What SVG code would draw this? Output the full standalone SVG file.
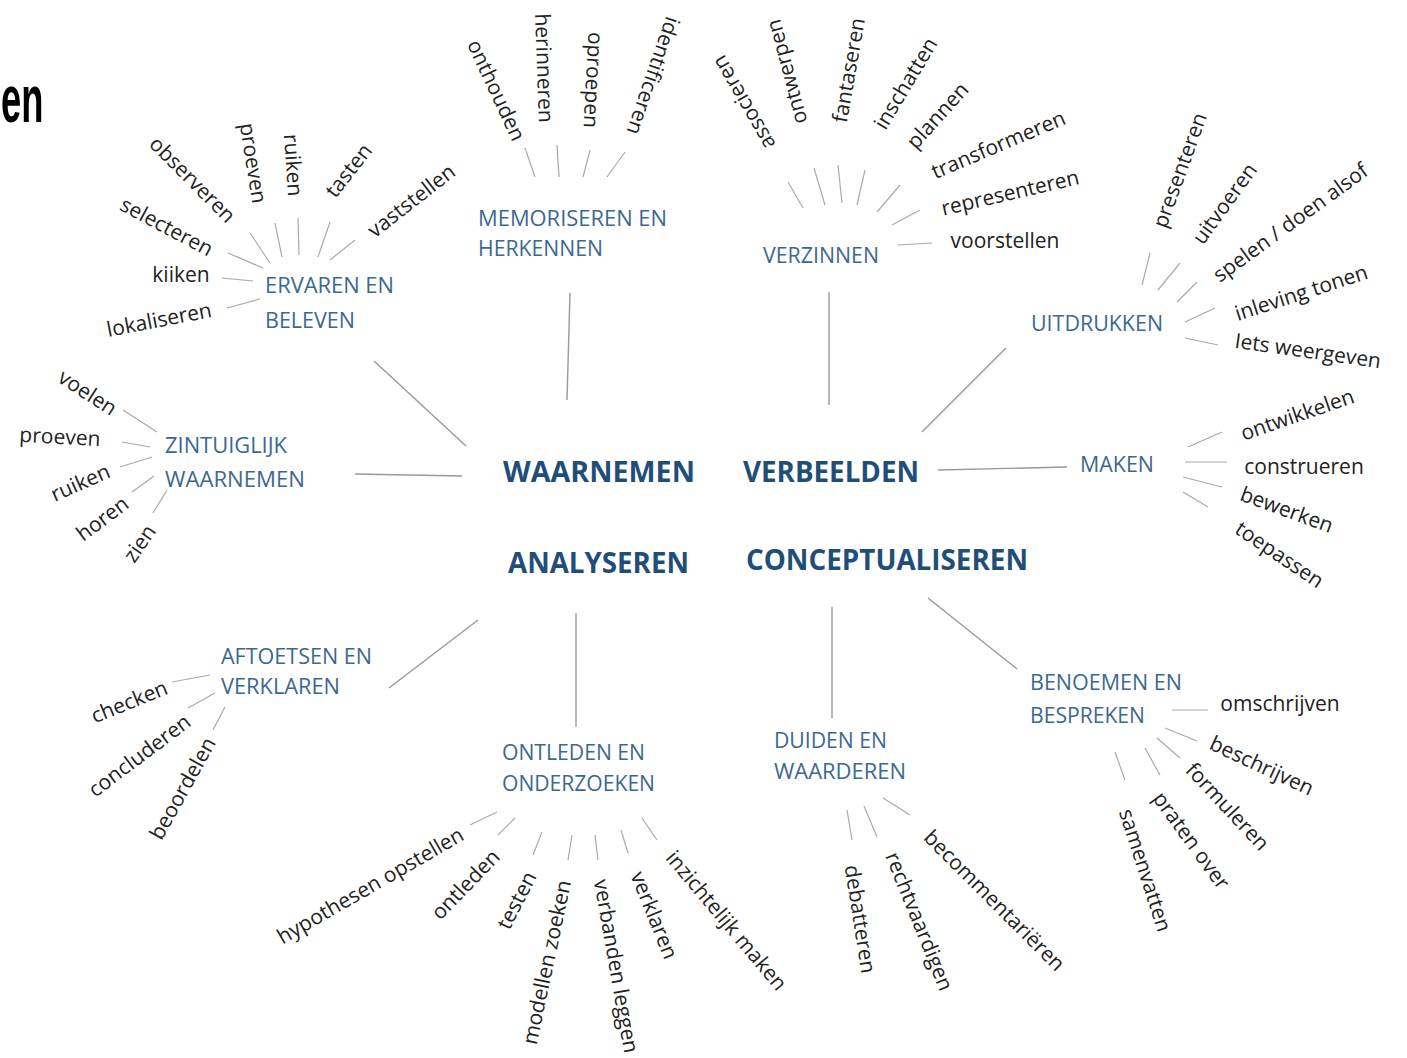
<svg xmlns="http://www.w3.org/2000/svg" width="1407" height="1058" viewBox="0 0 1407 1058">
<style>
.leaf{font-family:"Open Sans","Noto Sans","Liberation Sans",sans-serif;font-size:21px;fill:#222;text-anchor:middle;dominant-baseline:central}
.cat{font-family:"Open Sans","Noto Sans","Liberation Sans",sans-serif;font-size:22px;fill:#3b6891}
.core{font-family:"Open Sans","Noto Sans","Liberation Sans",sans-serif;font-size:29px;font-weight:bold;fill:#1f4e79}
.title{font-family:"Liberation Sans","Arial",sans-serif;font-size:66px;font-weight:bold;fill:#000}
.c{stroke:#999;stroke-width:1.4;fill:none}
.s{stroke:#aaa;stroke-width:1.2;fill:none}
</style>
<rect width="1407" height="1058" fill="#fff"/>
<text class="title" transform="translate(1,122) scale(0.55,1)">en</text>

<g id="connectors">
<line class="c" x1="374" y1="361" x2="466" y2="446"/>
<line class="c" x1="570" y1="293" x2="567" y2="400"/>
<line class="c" x1="355" y1="474" x2="462" y2="476"/>
<line class="c" x1="829" y1="292" x2="829" y2="405"/>
<line class="c" x1="1006" y1="348" x2="922" y2="432"/>
<line class="c" x1="938" y1="470" x2="1067" y2="467"/>
<line class="c" x1="389" y1="688" x2="478" y2="620"/>
<line class="c" x1="576" y1="613" x2="576" y2="727"/>
<line class="c" x1="832" y1="607" x2="832" y2="718"/>
<line class="c" x1="928" y1="598" x2="1017" y2="669"/>

<line class="s" x1="250" y1="233" x2="270" y2="263"/>
<line class="s" x1="275" y1="223" x2="282" y2="257"/>
<line class="s" x1="298" y1="218" x2="299" y2="255"/>
<line class="s" x1="330" y1="222" x2="318" y2="257"/>
<line class="s" x1="355" y1="240" x2="330" y2="260"/>
<line class="s" x1="228" y1="253" x2="263" y2="268"/>
<line class="s" x1="222" y1="278" x2="253" y2="281"/>
<line class="s" x1="227" y1="308" x2="260" y2="299"/>

<line class="s" x1="525" y1="148" x2="535" y2="177"/>
<line class="s" x1="557" y1="145" x2="559" y2="177"/>
<line class="s" x1="590" y1="150" x2="583" y2="177"/>
<line class="s" x1="625" y1="152" x2="607" y2="177"/>

<line class="s" x1="788" y1="182" x2="803" y2="208"/>
<line class="s" x1="814" y1="168" x2="825" y2="205"/>
<line class="s" x1="838" y1="165" x2="842" y2="203"/>
<line class="s" x1="865" y1="170" x2="857" y2="205"/>
<line class="s" x1="900" y1="185" x2="877" y2="212"/>
<line class="s" x1="920" y1="210" x2="892" y2="225"/>
<line class="s" x1="898" y1="245" x2="932" y2="243"/>

<line class="s" x1="1150" y1="253" x2="1142" y2="285"/>
<line class="s" x1="1180" y1="263" x2="1158" y2="290"/>
<line class="s" x1="1197" y1="282" x2="1177" y2="302"/>
<line class="s" x1="1215" y1="308" x2="1185" y2="322"/>
<line class="s" x1="1185" y1="338" x2="1218" y2="345"/>

<line class="s" x1="1188" y1="447" x2="1222" y2="432"/>
<line class="s" x1="1185" y1="462" x2="1227" y2="462"/>
<line class="s" x1="1183" y1="477" x2="1222" y2="487"/>
<line class="s" x1="1183" y1="492" x2="1208" y2="507"/>

<line class="s" x1="123" y1="410" x2="157" y2="432"/>
<line class="s" x1="122" y1="442" x2="150" y2="447"/>
<line class="s" x1="120" y1="467" x2="152" y2="457"/>
<line class="s" x1="132" y1="492" x2="154" y2="476"/>
<line class="s" x1="153" y1="513" x2="167" y2="490"/>

<line class="s" x1="172" y1="682" x2="210" y2="675"/>
<line class="s" x1="188" y1="708" x2="215" y2="693"/>
<line class="s" x1="213" y1="730" x2="225" y2="707"/>

<line class="s" x1="470" y1="825" x2="497" y2="812"/>
<line class="s" x1="498" y1="835" x2="515" y2="818"/>
<line class="s" x1="533" y1="855" x2="542" y2="832"/>
<line class="s" x1="568" y1="860" x2="572" y2="835"/>
<line class="s" x1="598" y1="860" x2="595" y2="835"/>
<line class="s" x1="628" y1="853" x2="621" y2="830"/>
<line class="s" x1="657" y1="840" x2="642" y2="818"/>

<line class="s" x1="847" y1="810" x2="852" y2="840"/>
<line class="s" x1="864" y1="806" x2="877" y2="837"/>
<line class="s" x1="883" y1="798" x2="910" y2="815"/>

<line class="s" x1="1172" y1="710" x2="1208" y2="710"/>
<line class="s" x1="1165" y1="728" x2="1197" y2="741"/>
<line class="s" x1="1157" y1="738" x2="1180" y2="758"/>
<line class="s" x1="1145" y1="748" x2="1160" y2="775"/>
<line class="s" x1="1115" y1="752" x2="1125" y2="780"/>
</g>

<g id="core-waarnemen"><text class="core" x="503" y="482" textLength="192" lengthAdjust="spacingAndGlyphs">WAARNEMEN</text></g>
<g id="core-verbeelden"><text class="core" x="743" y="482" textLength="176" lengthAdjust="spacingAndGlyphs">VERBEELDEN</text></g>
<g id="core-analyseren"><text class="core" x="508" y="573" textLength="181" lengthAdjust="spacingAndGlyphs">ANALYSEREN</text></g>
<g id="core-conceptualiseren"><text class="core" x="746" y="570" textLength="282" lengthAdjust="spacingAndGlyphs">CONCEPTUALISEREN</text></g>

<g id="node-ervaren">
<text class="cat" x="265" y="293" textLength="129" lengthAdjust="spacingAndGlyphs">ERVAREN EN</text>
<text class="cat" x="265" y="328" textLength="90" lengthAdjust="spacingAndGlyphs">BELEVEN</text>
<text class="leaf" transform="translate(193,179) rotate(45)">observeren</text>
<text class="leaf" transform="translate(254,163) rotate(81)">proeven</text>
<text class="leaf" transform="translate(294,165) rotate(86)">ruiken</text>
<text class="leaf" transform="translate(348,170) rotate(-52)">tasten</text>
<text class="leaf" transform="translate(411,200) rotate(-38)">vaststellen</text>
<text class="leaf" transform="translate(167,226) rotate(28)">selecteren</text>
<text class="leaf" transform="translate(181,274)">kiiken</text>
<text class="leaf" transform="translate(159,319) rotate(-11)">lokaliseren</text>
</g>

<g id="node-memoriseren">
<text class="cat" x="478" y="226" textLength="189" lengthAdjust="spacingAndGlyphs">MEMORISEREN EN</text>
<text class="cat" x="478" y="256" textLength="125" lengthAdjust="spacingAndGlyphs">HERKENNEN</text>
<text class="leaf" transform="translate(497,90) rotate(65)">onthouden</text>
<text class="leaf" transform="translate(545,68) rotate(88)">herinneren</text>
<text class="leaf" transform="translate(594,80) rotate(93)">oproepen</text>
<text class="leaf" transform="translate(654,76) rotate(109)">identificeren</text>
</g>

<g id="node-verzinnen">
<text class="cat" x="763" y="263" textLength="116" lengthAdjust="spacingAndGlyphs">VERZINNEN</text>
<text class="leaf" transform="translate(743,103) rotate(-120)">associeren</text>
<text class="leaf" transform="translate(786,72) rotate(-105)">ontwerpen</text>
<text class="leaf" transform="translate(848,70) rotate(-80)">fantaseren</text>
<text class="leaf" transform="translate(905,83) rotate(-59)">inschatten</text>
<text class="leaf" transform="translate(937,115) rotate(-48)">plannen</text>
<text class="leaf" transform="translate(998,144) rotate(-23)">transformeren</text>
<text class="leaf" transform="translate(1010,192) rotate(-13)">representeren</text>
<text class="leaf" transform="translate(1005,240)">voorstellen</text>
</g>

<g id="node-uitdrukken">
<text class="cat" x="1031" y="331" textLength="132" lengthAdjust="spacingAndGlyphs">UITDRUKKEN</text>
<text class="leaf" transform="translate(1179,170) rotate(-70)">presenteren</text>
<text class="leaf" transform="translate(1224,203) rotate(-54)">uitvoeren</text>
<text class="leaf" transform="translate(1290,222) rotate(-36)">spelen / doen alsof</text>
<text class="leaf" transform="translate(1301,292) rotate(-18)">inleving tonen</text>
<text class="leaf" transform="translate(1308,350) rotate(8)">Iets weergeven</text>
</g>

<g id="node-maken">
<text class="cat" x="1080" y="472" textLength="74" lengthAdjust="spacingAndGlyphs">MAKEN</text>
<text class="leaf" transform="translate(1297,414) rotate(-19)">ontwikkelen</text>
<text class="leaf" transform="translate(1304,466)">construeren</text>
<text class="leaf" transform="translate(1287,509) rotate(20)">bewerken</text>
<text class="leaf" transform="translate(1280,554) rotate(34)">toepassen</text>
</g>

<g id="node-zintuiglijk">
<text class="cat" x="165" y="453" textLength="122" lengthAdjust="spacingAndGlyphs">ZINTUIGLIJK</text>
<text class="cat" x="165" y="487" textLength="140" lengthAdjust="spacingAndGlyphs">WAARNEMEN</text>
<text class="leaf" transform="translate(88,392) rotate(33)">voelen</text>
<text class="leaf" transform="translate(60,436) rotate(3)">proeven</text>
<text class="leaf" transform="translate(80,482) rotate(-24)">ruiken</text>
<text class="leaf" transform="translate(102,518) rotate(-37)">horen</text>
<text class="leaf" transform="translate(139,543) rotate(-55)">zien</text>
</g>

<g id="node-aftoetsen">
<text class="cat" x="221" y="664" textLength="151" lengthAdjust="spacingAndGlyphs">AFTOETSEN EN</text>
<text class="cat" x="221" y="694" textLength="119" lengthAdjust="spacingAndGlyphs">VERKLAREN</text>
<text class="leaf" transform="translate(129,701) rotate(-22)">checken</text>
<text class="leaf" transform="translate(139,755) rotate(-37)">concluderen</text>
<text class="leaf" transform="translate(182,788) rotate(-61)">beoordelen</text>
</g>

<g id="node-ontleden">
<text class="cat" x="502" y="760" textLength="143" lengthAdjust="spacingAndGlyphs">ONTLEDEN EN</text>
<text class="cat" x="502" y="791" textLength="153" lengthAdjust="spacingAndGlyphs">ONDERZOEKEN</text>
<text class="leaf" transform="translate(370,885) rotate(-30)">hypothesen opstellen</text>
<text class="leaf" transform="translate(465,884) rotate(-46)">ontleden</text>
<text class="leaf" transform="translate(516,900) rotate(-63)">testen</text>
<text class="leaf" transform="translate(546,962) rotate(-78)">modellen zoeken</text>
<text class="leaf" transform="translate(617,966) rotate(80)">verbanden leggen</text>
<text class="leaf" transform="translate(655,915) rotate(68)">verklaren</text>
<text class="leaf" transform="translate(727,920) rotate(50)">inzichtelijk maken</text>
</g>

<g id="node-duiden">
<text class="cat" x="774" y="748" textLength="113" lengthAdjust="spacingAndGlyphs">DUIDEN EN</text>
<text class="cat" x="774" y="779" textLength="132" lengthAdjust="spacingAndGlyphs">WAARDEREN</text>
<text class="leaf" transform="translate(861,919) rotate(81)">debatteren</text>
<text class="leaf" transform="translate(920,921) rotate(68)">rechtvaardigen</text>
<text class="leaf" transform="translate(995,900) rotate(45)">becommentariëren</text>
</g>

<g id="node-benoemen">
<text class="cat" x="1030" y="690" textLength="152" lengthAdjust="spacingAndGlyphs">BENOEMEN EN</text>
<text class="cat" x="1030" y="723" textLength="115" lengthAdjust="spacingAndGlyphs">BESPREKEN</text>
<text class="leaf" transform="translate(1280,703)">omschrijven</text>
<text class="leaf" transform="translate(1262,765) rotate(25)">beschrijven</text>
<text class="leaf" transform="translate(1228,806) rotate(47)">formuleren</text>
<text class="leaf" transform="translate(1192,840) rotate(54)">praten over</text>
<text class="leaf" transform="translate(1146,870) rotate(72)">samenvatten</text>
</g>
</svg>
